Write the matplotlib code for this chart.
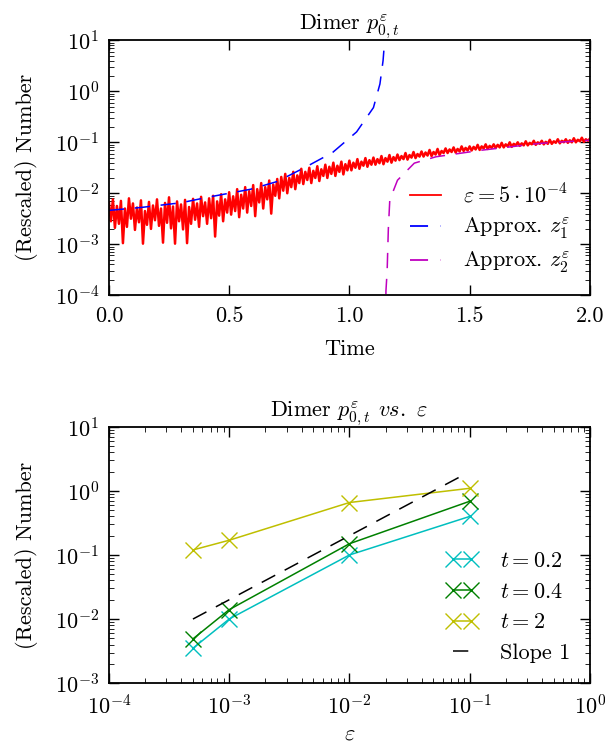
import numpy as np
import matplotlib
matplotlib.use("Agg")
import matplotlib.pyplot as plt

plt.rcParams.update({
    "font.family": "cmr10",
    "mathtext.fontset": "cm",
    "axes.formatter.use_mathtext": True,
    "axes.unicode_minus": False,
    "font.size": 16,
    "xtick.direction": "in",
    "ytick.direction": "in",
    "xtick.top": True,
    "ytick.right": True,
    "xtick.major.size": 7,
    "ytick.major.size": 7,
    "xtick.minor.size": 3.5,
    "ytick.minor.size": 3.5,
    "xtick.major.width": 1.0,
    "ytick.major.width": 1.0,
    "xtick.major.pad": 8,
    "ytick.major.pad": 7,
    "axes.linewidth": 1.3,
})

# top panel: noisy trace (log10 values) and the two approximations
red_log = [
    -2.18, -2.55, -2.12, -2.68, -2.25, -2.60, -2.15, -2.98, -2.30, -2.66, -2.10, -2.50,
    -2.20, -2.72, -2.28, -2.57, -2.14, -2.99, -2.35, -2.62, -2.17, -2.70, -2.24, -2.53,
    -2.12, -2.64, -2.30, -2.97, -2.19, -2.58, -2.08, -2.69, -2.26, -2.99, -2.16, -2.55,
    -2.22, -2.71, -2.13, -2.98, -2.27, -2.60, -2.11, -2.52, -2.20, -2.66, -2.07, -2.45,
    -2.18, -2.60, -2.10, -2.49, -2.05, -2.85, -2.16, -2.44, -2.02, -2.55, -2.12, -2.38,
    -1.98, -2.42, -2.06, -2.35, -1.92, -2.47, -2.03, -2.30, -1.88, -2.38, -1.96, -2.25,
    -1.84, -2.45, -1.92, -2.18, -1.80, -2.30, -1.88, -2.12, -1.75, -2.40, -1.83, -2.05,
    -1.72, -2.10, -1.68, -1.95, -1.62, -2.00, -1.70, -1.88, -1.58, -1.92, -1.65, -1.80,
    -1.52, -1.82, -1.58, -1.74, -1.50, -1.80, -1.56, -1.70, -1.47, -1.76, -1.53, -1.66,
    -1.44, -1.70, -1.48, -1.62, -1.40, -1.66, -1.46, -1.58, -1.38, -1.63, -1.43, -1.55,
    -1.36, -1.55, -1.40, -1.50, -1.33, -1.52, -1.38, -1.46, -1.31, -1.48, -1.35, -1.44,
    -1.30, -1.44, -1.33, -1.41, -1.27, -1.43, -1.31, -1.38, -1.25, -1.40, -1.29, -1.36,
    -1.24, -1.35, -1.27, -1.33, -1.21, -1.34, -1.25, -1.30, -1.19, -1.31, -1.23, -1.28,
    -1.18, -1.28, -1.20, -1.26, -1.15, -1.27, -1.19, -1.24, -1.13, -1.25, -1.17, -1.21,
    -1.12, -1.21, -1.14, -1.19, -1.10, -1.20, -1.13, -1.18, -1.08, -1.17, -1.11, -1.16,
    -1.08, -1.16, -1.09, -1.14, -1.05, -1.15, -1.08, -1.12, -1.04, -1.13, -1.07, -1.11,
    -1.04, -1.11, -1.05, -1.10, -1.01, -1.10, -1.04, -1.08, -1.00, -1.09, -1.03, -1.06,
    -1.00, -1.07, -1.02, -1.06, -0.98, -1.06, -1.01, -1.04, -0.97, -1.05, -1.00, -1.03,
    -0.97, -1.04, -0.99, -1.03, -0.95, -1.03, -0.98, -1.01, -0.94, -1.02, -0.97, -1.00,
    -0.94, -1.01, -0.96, -1.00, -0.92, -1.00, -0.95, -0.98, -0.91, -0.99, -0.94, -0.97,
    -0.93,
]
red_time = np.linspace(0.0, 2.0, len(red_log))

z1_time = [0.0, 0.14, 0.30, 0.42, 0.59, 0.70, 0.82, 0.93, 1.03, 1.10, 1.127, 1.14, 1.148]
z1_vals = [4.6e-3, 5.3e-3, 6.5e-3, 8.5e-3, 1.2e-2, 1.7e-2, 3.3e-2, 6.3e-2, 0.16, 0.48, 1.4, 4.0, 12.0]

z2_time = [1.1495, 1.152, 1.157, 1.162, 1.168, 1.20, 1.27, 1.36, 1.55, 1.79, 2.0]
z2_vals = [1e-5, 1.2e-4, 3e-4, 2e-3, 7.4e-3, 1.8e-2, 3.9e-2, 5.2e-2, 7e-2, 9.5e-2, 0.11]

# bottom panel: value vs epsilon
eps = [5e-4, 1e-3, 1e-2, 1e-1]
vals_t02 = [3.5e-3, 1.0e-2, 0.10, 0.40]
vals_t04 = [4.9e-3, 1.4e-2, 0.15, 0.69]
vals_t2 = [0.12, 0.17, 0.66, 1.1]
slope_eps = [5e-4, 9e-2]
slope_vals = [1.0e-2, 1.8]

dash = (0, (10, 7))

fig = plt.figure(figsize=(6.05, 7.49), dpi=100)
ax1 = fig.add_axes([0.180, 0.606, 0.795, 0.340])
ax2 = fig.add_axes([0.180, 0.088, 0.795, 0.342])

ax1.semilogy(red_time, 10 ** np.array(red_log), color="r", lw=1.8,
             label=r"$\varepsilon = 5\cdot 10^{-4}$")
ax1.semilogy(z1_time, z1_vals, color="b", lw=1.1, ls=dash,
             label=r"Approx. $z_1^\varepsilon$")
ax1.semilogy(z2_time, z2_vals, color="m", lw=1.1, ls=dash,
             label=r"Approx. $z_2^\varepsilon$")
ax1.set_xlim(0, 2)
ax1.set_ylim(1e-4, 10)
ax1.set_xticks([0.0, 0.5, 1.0, 1.5, 2.0])
ax1.set_xticklabels(["0.0", "0.5", "1.0", "1.5", "2.0"])
ax1.set_xlabel("Time", labelpad=10)
ax1.set_ylabel("(Rescaled) Number", labelpad=12)
ax1.set_title(r"Dimer $p^\varepsilon_{0,t}$", fontsize=16, pad=6)
leg1 = ax1.legend(loc="lower right", frameon=False, handlelength=1.4, handletextpad=1.0,
                  borderaxespad=0.5, labelspacing=0.4, fontsize=16)
for handle in leg1.get_lines():
    handle.set_linewidth(1.3)

ax2.loglog(eps, vals_t02, color="c", marker="x", ms=12, mew=1.0, lw=1.1, label=r"$t = 0.2$")
ax2.loglog(eps, vals_t04, color="g", marker="x", ms=12, mew=1.0, lw=1.1, label=r"$t = 0.4$")
ax2.loglog(eps, vals_t2, color="y", marker="x", ms=12, mew=1.0, lw=1.1, label=r"$t = 2$")
ax2.loglog(slope_eps, slope_vals, color="k", lw=1.1, ls=dash, label="Slope 1")
ax2.set_xlim(1e-4, 1)
ax2.set_ylim(1e-3, 10)
ax2.set_xlabel(r"$\varepsilon$", labelpad=4)
ax2.set_ylabel("(Rescaled) Number", labelpad=12)
ax2.set_title(r"Dimer $p^\varepsilon_{0,t}$ $vs.$ $\varepsilon$", fontsize=16, pad=6)
ax2.legend(loc="lower right", frameon=False, numpoints=2, handlelength=1.4, handletextpad=1.0,
           borderaxespad=0.5, labelspacing=0.5, fontsize=16)

fig.savefig("out.png", dpi=100)
